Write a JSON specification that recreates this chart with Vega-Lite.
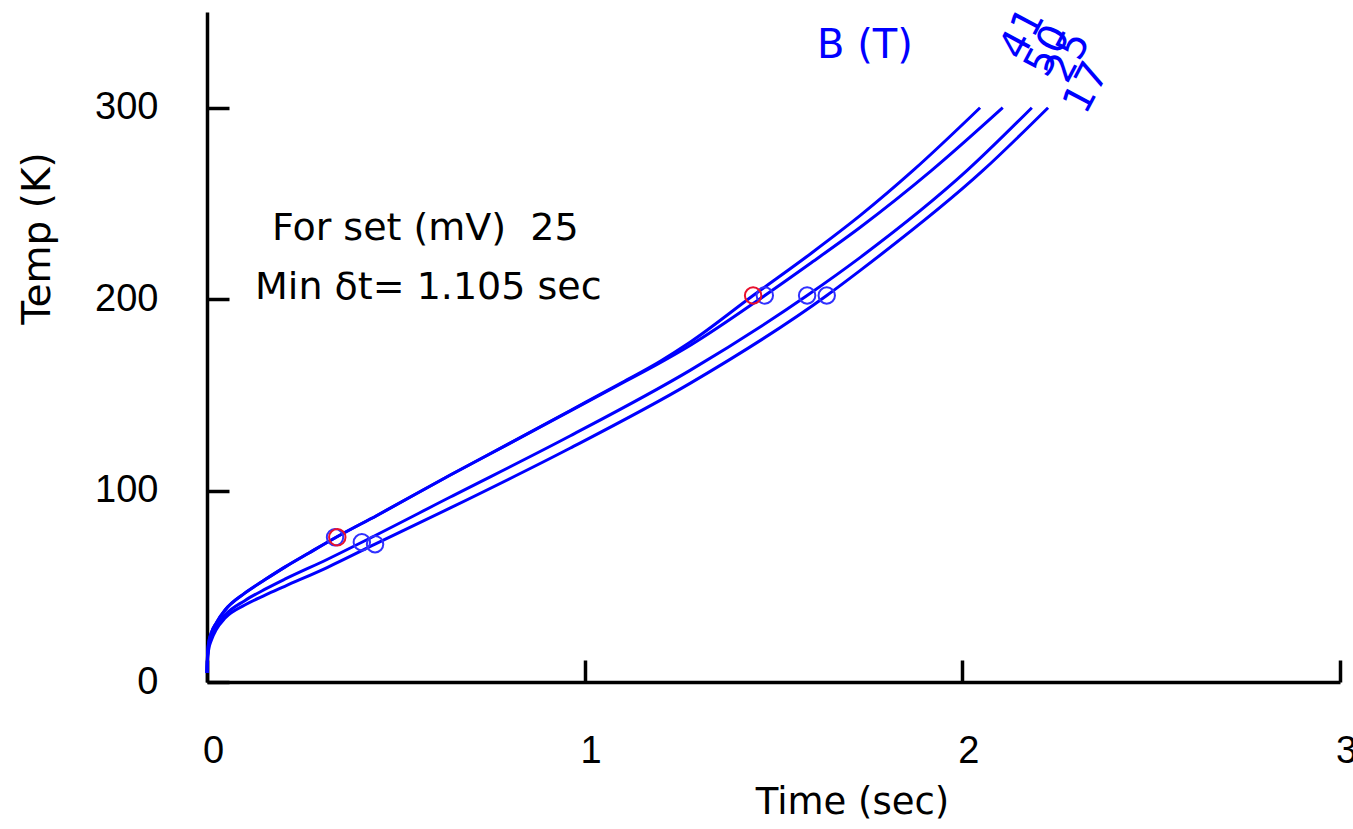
{
  "$schema": "https://vega.github.io/schema/vega-lite/v6.json",
  "width": 1133,
  "height": 670,
  "autosize": {"type": "none"},
  "padding": {"left": 207, "top": 12, "right": 13, "bottom": 147},
  "background": "white",
  "config": {"view": {"stroke": null}, "font": "Liberation Sans"},
  "datasets": {
    "curves": [
      {"s": "c1", "t": 0, "T": 4.7}, {"s": "c1", "t": 0.001, "T": 12}, {"s": "c1", "t": 0.004, "T": 20}, {"s": "c1", "t": 0.012, "T": 26}, {"s": "c1", "t": 0.025, "T": 31}, {"s": "c1", "t": 0.048, "T": 37.6}, {"s": "c1", "t": 0.1, "T": 46.4}, {"s": "c1", "t": 0.154, "T": 53.5}, {"s": "c1", "t": 0.206, "T": 60}, {"s": "c1", "t": 0.27, "T": 67.4}, {"s": "c1", "t": 0.342, "T": 75.6}, {"s": "c1", "t": 0.45, "T": 87}, {"s": "c1", "t": 0.643, "T": 108}, {"s": "c1", "t": 0.8, "T": 124.5}, {"s": "c1", "t": 0.961, "T": 141.7}, {"s": "c1", "t": 1.1, "T": 156.6}, {"s": "c1", "t": 1.2, "T": 167.6}, {"s": "c1", "t": 1.279, "T": 177.5}, {"s": "c1", "t": 1.446, "T": 201.9}, {"s": "c1", "t": 1.6, "T": 224}, {"s": "c1", "t": 1.729, "T": 243.6}, {"s": "c1", "t": 1.869, "T": 267.1}, {"s": "c1", "t": 2.047, "T": 300},
      {"s": "c2", "t": 0, "T": 4.7}, {"s": "c2", "t": 0.001, "T": 12}, {"s": "c2", "t": 0.004, "T": 20}, {"s": "c2", "t": 0.012, "T": 26}, {"s": "c2", "t": 0.025, "T": 31}, {"s": "c2", "t": 0.048, "T": 37.6}, {"s": "c2", "t": 0.1, "T": 46.4}, {"s": "c2", "t": 0.154, "T": 53.5}, {"s": "c2", "t": 0.206, "T": 60}, {"s": "c2", "t": 0.27, "T": 67.4}, {"s": "c2", "t": 0.342, "T": 75.6}, {"s": "c2", "t": 0.45, "T": 87}, {"s": "c2", "t": 0.643, "T": 108}, {"s": "c2", "t": 0.8, "T": 124.5}, {"s": "c2", "t": 0.961, "T": 141.5}, {"s": "c2", "t": 1.1, "T": 156.2}, {"s": "c2", "t": 1.2, "T": 166.8}, {"s": "c2", "t": 1.279, "T": 175.8}, {"s": "c2", "t": 1.477, "T": 201.9}, {"s": "c2", "t": 1.6, "T": 219}, {"s": "c2", "t": 1.729, "T": 237.4}, {"s": "c2", "t": 1.918, "T": 267.1}, {"s": "c2", "t": 2.107, "T": 300},
      {"s": "c3", "t": 0, "T": 4.7}, {"s": "c3", "t": 0.001, "T": 11}, {"s": "c3", "t": 0.004, "T": 18}, {"s": "c3", "t": 0.012, "T": 23.5}, {"s": "c3", "t": 0.025, "T": 29}, {"s": "c3", "t": 0.048, "T": 35}, {"s": "c3", "t": 0.1, "T": 42.5}, {"s": "c3", "t": 0.154, "T": 48.5}, {"s": "c3", "t": 0.206, "T": 53.7}, {"s": "c3", "t": 0.318, "T": 64}, {"s": "c3", "t": 0.41, "T": 73}, {"s": "c3", "t": 0.643, "T": 96.5}, {"s": "c3", "t": 0.961, "T": 128.5}, {"s": "c3", "t": 1.279, "T": 162.8}, {"s": "c3", "t": 1.589, "T": 201.9}, {"s": "c3", "t": 1.729, "T": 221.7}, {"s": "c3", "t": 2.012, "T": 267.1}, {"s": "c3", "t": 2.184, "T": 300},
      {"s": "c4", "t": 0, "T": 4.7}, {"s": "c4", "t": 0.001, "T": 10}, {"s": "c4", "t": 0.004, "T": 16.5}, {"s": "c4", "t": 0.012, "T": 22}, {"s": "c4", "t": 0.025, "T": 27.5}, {"s": "c4", "t": 0.048, "T": 33.4}, {"s": "c4", "t": 0.1, "T": 40.2}, {"s": "c4", "t": 0.154, "T": 45.4}, {"s": "c4", "t": 0.206, "T": 50}, {"s": "c4", "t": 0.318, "T": 59.8}, {"s": "c4", "t": 0.445, "T": 72}, {"s": "c4", "t": 0.643, "T": 90.8}, {"s": "c4", "t": 0.961, "T": 122.1}, {"s": "c4", "t": 1.279, "T": 156}, {"s": "c4", "t": 1.641, "T": 201.9}, {"s": "c4", "t": 1.729, "T": 214.9}, {"s": "c4", "t": 2.054, "T": 267.1}, {"s": "c4", "t": 2.227, "T": 300}
    ],
    "circles": [
      {"kind": "blue", "t": 0.339, "T": 75.6}, {"kind": "blue", "t": 1.477, "T": 201.9},
      {"kind": "blue", "t": 0.41, "T": 73}, {"kind": "blue", "t": 1.589, "T": 201.9},
      {"kind": "blue", "t": 0.445, "T": 72}, {"kind": "blue", "t": 1.641, "T": 201.9},
      {"kind": "red", "t": 0.345, "T": 75.6}, {"kind": "red", "t": 1.446, "T": 201.9}
    ],
    "labels": [
      {"label": "41", "t": 2.16, "T": 338.6},
      {"label": "50", "t": 2.227, "T": 329.7},
      {"label": "25", "t": 2.281, "T": 326.6},
      {"label": "17", "t": 2.33, "T": 310.4}
    ],
    "notes": [
      {"text": "For set (mV)\u00a0 25", "t": 0.578, "T": 236.9},
      {"text": "Min δt= 1.105 sec", "t": 0.586, "T": 206}
    ],
    "title": [{"text": "B (T)", "t": 1.742, "T": 332}]
  },
  "layer": [
    {
      "data": {"name": "curves"},
      "mark": {"type": "line", "color": "#0000ff", "strokeWidth": 3, "interpolate": "monotone"},
      "encoding": {
        "x": {"field": "t", "type": "quantitative", "scale": {"domain": [0, 3], "nice": false},
          "axis": {"values": [0, 1, 2, 3], "format": "d", "grid": false, "domainColor": "black", "domainWidth": 3.5, "tickColor": "black", "tickWidth": 3.5, "tickSize": -22, "labelFontSize": 38, "labelColor": "black", "labelPadding": 72, "labelOffset": 6, "labelFlush": false, "labelFont": "Liberation Sans", "title": "Time (sec)", "titleFont": "DejaVu Sans", "titleFontSize": 37, "titleFontWeight": "normal", "titleColor": "black", "titleX": 645, "titleY": 120, "titleBaseline": "middle", "titleAlign": "center"}},
        "y": {"field": "T", "type": "quantitative", "scale": {"domain": [0, 350], "nice": false},
          "axis": {"values": [0, 100, 200, 300], "grid": false, "domainColor": "black", "domainWidth": 3.5, "tickColor": "black", "tickWidth": 3.5, "tickSize": -22, "labelFontSize": 38, "labelColor": "black", "labelPadding": 71, "labelFont": "Liberation Sans", "title": "Temp (K)", "titleFont": "DejaVu Sans", "titleFontSize": 39, "titleFontWeight": "normal", "titleColor": "black", "titleX": -170, "titleY": 226, "titleBaseline": "middle", "titleAlign": "center", "titleAngle": -90}},
        "detail": {"field": "s"}
      }
    },
    {
      "data": {"name": "circles"},
      "mark": {"type": "point", "shape": "circle", "filled": false, "strokeWidth": 2, "size": 270},
      "encoding": {
        "x": {"field": "t", "type": "quantitative"},
        "y": {"field": "T", "type": "quantitative"},
        "color": {"field": "kind", "type": "nominal", "scale": {"domain": ["blue", "red"], "range": ["#3030ff", "#e8112d"]}, "legend": null},
        "opacity": {"value": 1}
      }
    },
    {
      "data": {"name": "labels"},
      "mark": {"type": "text", "color": "#0000ff", "fontSize": 40, "font": "DejaVu Sans", "angle": -62, "align": "center", "baseline": "middle"},
      "encoding": {
        "x": {"field": "t", "type": "quantitative"},
        "y": {"field": "T", "type": "quantitative"},
        "text": {"field": "label"}
      }
    },
    {
      "data": {"name": "title"},
      "mark": {"type": "text", "color": "#0000ff", "fontSize": 40, "font": "DejaVu Sans", "align": "center", "baseline": "middle"},
      "encoding": {
        "x": {"field": "t", "type": "quantitative"},
        "y": {"field": "T", "type": "quantitative"},
        "text": {"field": "text"}
      }
    },
    {
      "data": {"name": "notes"},
      "mark": {"type": "text", "color": "black", "fontSize": 38, "font": "DejaVu Sans", "align": "center", "baseline": "middle"},
      "encoding": {
        "x": {"field": "t", "type": "quantitative"},
        "y": {"field": "T", "type": "quantitative"},
        "text": {"field": "text"}
      }
    }
  ]
}
